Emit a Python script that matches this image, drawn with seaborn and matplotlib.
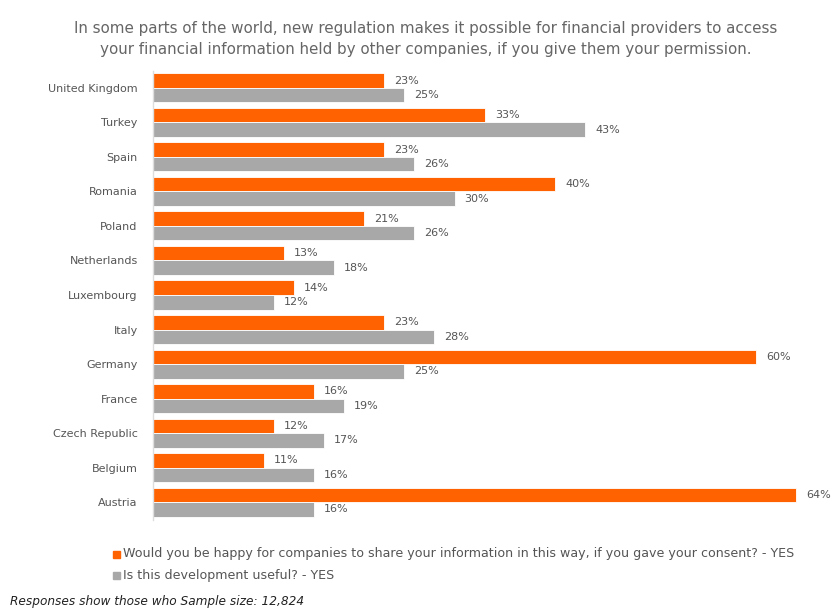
import matplotlib
matplotlib.use("Agg")
import matplotlib.pyplot as plt
import seaborn as sns
import pandas as pd

countries = ["United Kingdom", "Turkey", "Spain", "Romania", "Poland", "Netherlands",
             "Luxembourg", "Italy", "Germany", "France", "Czech Republic", "Belgium", "Austria"]
happy_share = [23, 33, 23, 40, 21, 13, 14, 23, 60, 16, 12, 11, 64]
useful = [25, 43, 26, 30, 26, 18, 12, 28, 25, 19, 17, 16, 16]
series_names = ["Would you be happy for companies to share your information in this way, if you gave your consent? - YES",
                "Is this development useful? - YES"]
title = ("In some parts of the world, new regulation makes it possible for financial providers to access\n"
         "your financial information held by other companies, if you give them your permission.")
footnote = "Responses show those who Sample size: 12,824"

df = pd.DataFrame({
    "country": countries * 2,
    "value": happy_share + useful,
    "series": [series_names[0]] * len(countries) + [series_names[1]] * len(countries),
})

sns.set_theme(style="white")
plt.rcParams["font.family"] = ["DejaVu Sans"]

fig = plt.figure(figsize=(8.32, 6.09), dpi=100)
ax = fig.add_axes([153 / 832, 1 - 519.5 / 609, 1 - 153 / 832, (519.5 - 70.5) / 609])

colors = ["#FF6200", "#A8A8A8"]
sns.barplot(data=df, y="country", x="value", hue="series", order=countries,
            hue_order=series_names, palette=colors, orient="h", width=0.84,
            ax=ax, legend=False, saturation=1, edgecolor="white", linewidth=0.6)

ax.set_xlim(0, (832 - 153) / 10.05)
ax.set_xlabel("")
ax.set_ylabel("")
ax.set_xticks([])
for s in ["top", "right", "bottom"]:
    ax.spines[s].set_visible(False)
ax.spines["left"].set_color("#DDDDDD")
ax.spines["left"].set_linewidth(1)
ax.tick_params(axis="y", length=0, pad=11, labelsize=8, labelcolor="#555555")

for cont in ax.containers:
    for bar in cont:
        w = bar.get_width()
        ax.text(w + 1.0, bar.get_y() + bar.get_height() / 2, f"{int(round(w))}%",
                va="center", ha="left", fontsize=8, color="#555555", clip_on=False)

fig.text(0.512, 0.965, title, ha="center", va="top", fontsize=10.9, color="#666666",
         linespacing=1.5)

lx = 113 / 832
for i, (name, c) in enumerate(zip(series_names, colors)):
    y = 1 - (554 + i * 21) / 609
    fig.patches.append(plt.Rectangle((lx, y - 0.006), 7 / 832, 7 / 609, transform=fig.transFigure,
                                     color=c, figure=fig))
    fig.text(lx + 10 / 832, y, name, ha="left", va="center", fontsize=9.1, color="#555555")

fig.text(10 / 832, 1 - 602 / 609, footnote, ha="left", va="center", fontsize=8.7,
         style="italic", color="#222222")

fig.savefig("out.png", dpi=100)
